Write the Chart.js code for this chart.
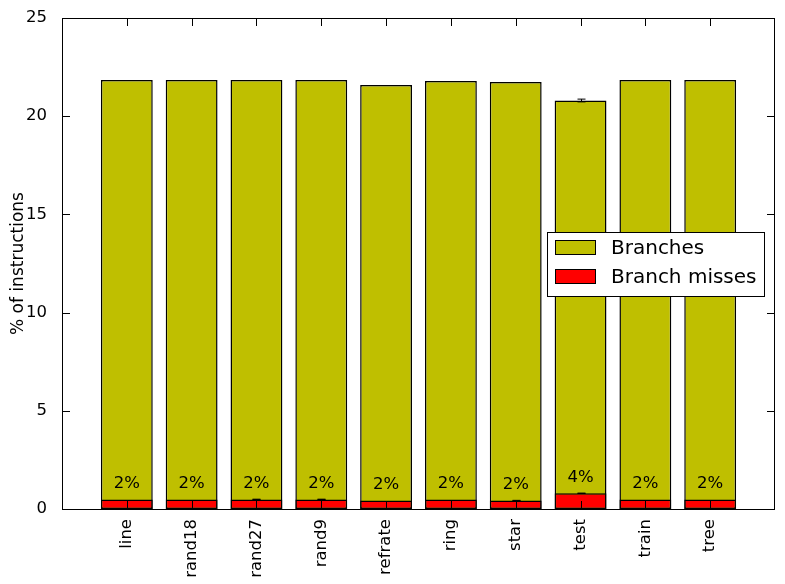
<!DOCTYPE html>
<html><head><meta charset="utf-8">
<script src="https://cdn.jsdelivr.net/npm/chart.js@4/dist/chart.umd.min.js"></script>
<style>html,body{margin:0;padding:0;background:#fff}#wrap{width:785px;height:584px}</style>
</head><body><div id="wrap"><canvas id="c" width="785" height="584"></canvas></div>
<script>
const categories = ['line','rand18','rand27','rand9','refrate','ring','star','test','train','tree'];
const branches = [21.84,21.84,21.84,21.84,21.59,21.79,21.74,20.80,21.84,21.84];
const branchErr = [0,0,0,0,0,0,0,0.07,0,0];
const misses = [0.49,0.49,0.49,0.49,0.43,0.49,0.43,0.80,0.49,0.49];
const missErr = [0,0,0.01,0.01,0,0,0.01,0.01,0,0];
const yTicks = [0,5,10,15,20,25];

const FONT = 'DejaVu Sans';
const pts = arr => arr.map((v,i)=>({x:i,y:v}));

const overlay = {
  id:'overlay',
  afterDatasetsDraw(chart){
    const {ctx, chartArea:a, scales:{x,y}} = chart;
    ctx.save();
    ctx.strokeStyle='#000'; ctx.lineWidth=1;
    const drawErr=(vals,errs)=>{
      vals.forEach((v,i)=>{
        if(!errs[i]) return;
        const px=Math.round(x.getPixelForValue(i))+0.5;
        const t=y.getPixelForValue(v+errs[i]), b=y.getPixelForValue(v-errs[i]);
        ctx.beginPath();ctx.moveTo(px,t);ctx.lineTo(px,b);
        ctx.moveTo(px-4,t);ctx.lineTo(px+4,t);
        ctx.moveTo(px-4,b);ctx.lineTo(px+4,b);ctx.stroke();
      });
    };
    drawErr(branches,branchErr);
    drawErr(misses,missErr);
    ctx.fillStyle='#000'; ctx.font='16.5px "'+FONT+'"';
    ctx.textAlign='center'; ctx.textBaseline='middle';
    misses.forEach((m,i)=>{
      const pct=Math.round(100*m/branches[i]);
      ctx.fillText(pct+'%', x.getPixelForValue(i), y.getPixelForValue(m)-16);
    });
    ctx.beginPath();
    yTicks.forEach(t=>{
      const py=Math.round(y.getPixelForValue(t))+0.5;
      ctx.moveTo(a.left,py);ctx.lineTo(a.left+8,py);
      ctx.moveTo(a.right,py);ctx.lineTo(a.right-8,py);
    });
    categories.forEach((c,i)=>{
      const px=Math.round(x.getPixelForValue(i))+0.5;
      ctx.moveTo(px,a.bottom);ctx.lineTo(px,a.bottom-8);
      ctx.moveTo(px,a.top);ctx.lineTo(px,a.top+8);
    });
    ctx.stroke();
    ctx.strokeRect(Math.round(a.left)+0.5,Math.round(a.top)+0.5,Math.round(a.right-a.left)-1,Math.round(a.bottom-a.top));
    const lx=547.5, ly=232.5, lw=217, lh=64;
    ctx.fillStyle='#fff'; ctx.fillRect(lx,ly,lw,lh); ctx.strokeRect(lx,ly,lw,lh);
    const items=[['Branches','#bfbf00',248],['Branch misses','#ff0000',277]];
    ctx.font='20px "'+FONT+'"'; ctx.textAlign='left';
    items.forEach(([t,col,cy])=>{
      ctx.fillStyle=col; ctx.fillRect(555.5,cy-7.5,40,14); ctx.strokeRect(555.5,cy-7.5,40,14);
      ctx.fillStyle='#000'; ctx.fillText(t,611,cy+1);
    });
    ctx.restore();
  }
};

new Chart(document.getElementById('c'),{
  type:'bar',
  data:{datasets:[
    {label:'Branch misses',data:pts(misses),backgroundColor:'#ff0000',borderColor:'#000',borderWidth:1.5,borderSkipped:false,order:0},
    {label:'Branches',data:pts(branches),backgroundColor:'#bfbf00',borderColor:'#000',borderWidth:1.5,borderSkipped:false,order:1}
  ]},
  options:{
    responsive:false,animation:false,devicePixelRatio:1,
    layout:{padding:{top:18,right:10,left:0,bottom:0}},
    datasets:{bar:{grouped:false,barPercentage:1,categoryPercentage:0.8}},
    plugins:{legend:{display:false},tooltip:{enabled:false}},
    scales:{
      x:{type:'linear',min:-1,max:10,offset:false,stacked:false,
        grid:{display:false},border:{display:false},
        afterFit(s){s.height=75;s.paddingLeft=0;s.paddingRight=0;},
        ticks:{stepSize:1,autoSkip:false,maxRotation:90,minRotation:90,padding:2,color:'#000',
          font:{family:FONT,size:16.5},
          callback:v=>categories[v]!==undefined?categories[v]:''}},
      y:{min:0,max:25,stacked:false,
        grid:{display:false},border:{display:false},
        afterFit(s){s.width=62;s.paddingTop=0;s.paddingBottom=0;},
        afterBuildTicks(s){s.ticks=yTicks.map(v=>({value:v}));},
        ticks:{padding:7,color:'#000',font:{family:FONT,size:16.5}},
        title:{display:true,text:'% of instructions',color:'#000',font:{family:FONT,size:17},padding:{top:8,bottom:0}}}
    }
  },
  plugins:[overlay]
});
</script></body></html>
